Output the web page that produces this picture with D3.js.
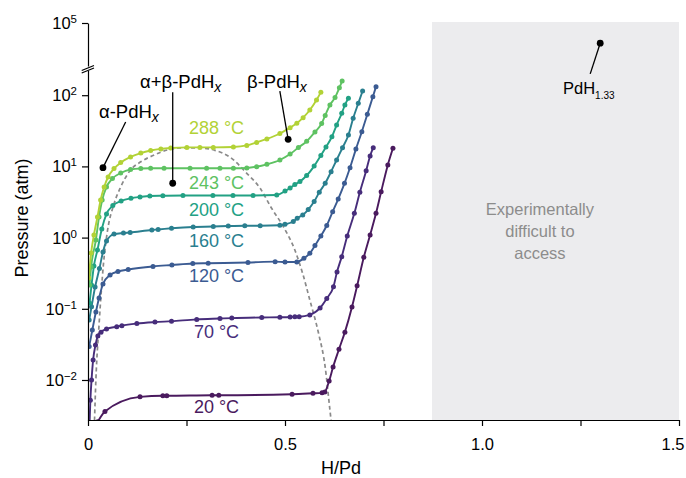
<!DOCTYPE html>
<meta charset="utf-8">
<style>
  body { margin: 0; background: #fff; }
  text { font-family: "Liberation Sans", Arial, sans-serif; fill: #000; }
  .axis path, .axis line { stroke: #000; stroke-width: 1.2px; }
</style>
<svg width="686" height="478"></svg>
<script src="https://cdn.jsdelivr.net/npm/d3@7/dist/d3.min.js"></script>
<script>
// isotherm temperatures (°C)
var temps = [20, 70, 120, 160, 200, 243, 288];

// H/Pd and pressure (atm), one pair of arrays per isotherm
var x20 = [0.025, 0.043, 0.132, 0.190, 0.200, 0.315, 0.332, 0.518, 0.571, 0.594, 0.601, 0.612, 0.622, 0.637, 0.652, 0.670, 0.683, 0.700, 0.716, 0.731, 0.744, 0.761, 0.774];
var p20 = [0.0026, 0.0036, 0.0058, 0.0060, 0.0060, 0.0061, 0.0061, 0.0063, 0.0065, 0.0066, 0.0068, 0.0097, 0.0152, 0.027, 0.047, 0.106, 0.21, 0.53, 1.09, 2.2, 4.4, 10.5, 18];

var x70 = [0.004, 0.006, 0.009, 0.013, 0.019, 0.025, 0.033, 0.047, 0.073, 0.086, 0.124, 0.170, 0.212, 0.276, 0.335, 0.365, 0.441, 0.487, 0.513, 0.525, 0.536, 0.563, 0.589, 0.606, 0.623, 0.632, 0.644, 0.658, 0.676, 0.690, 0.706, 0.716, 0.724];
var p70 = [0.0025, 0.0052, 0.0100, 0.0191, 0.031, 0.0415, 0.047, 0.052, 0.056, 0.058, 0.062, 0.065, 0.067, 0.071, 0.073, 0.074, 0.0755, 0.076, 0.0767, 0.0774, 0.0774, 0.082, 0.103, 0.140, 0.204, 0.33, 0.54, 1.05, 2.19, 4.33, 8.7, 14.0, 18.3];

var x120 = [0.003, 0.011, 0.020, 0.028, 0.038, 0.056, 0.076, 0.102, 0.165, 0.213, 0.266, 0.305, 0.406, 0.475, 0.500, 0.530, 0.548, 0.563, 0.576, 0.591, 0.606, 0.621, 0.635, 0.651, 0.665, 0.680, 0.695, 0.709, 0.723, 0.731];
var p120 = [0.0296, 0.0504, 0.090, 0.142, 0.223, 0.298, 0.334, 0.356, 0.393, 0.412, 0.433, 0.437, 0.447, 0.459, 0.454, 0.454, 0.512, 0.602, 0.774, 1.05, 1.48, 2.31, 3.48, 5.79, 9.59, 17.5, 30.7, 53.9, 95.3, 131.6];

var x160 = [0.003, 0.009, 0.018, 0.029, 0.038, 0.047, 0.066, 0.090, 0.107, 0.162, 0.178, 0.212, 0.267, 0.318, 0.356, 0.398, 0.437, 0.487, 0.500, 0.521, 0.531, 0.545, 0.559, 0.574, 0.587, 0.602, 0.617, 0.631, 0.646, 0.661, 0.673, 0.686, 0.697];
var p160 = [0.0696, 0.107, 0.202, 0.368, 0.628, 0.895, 1.12, 1.16, 1.18, 1.28, 1.30, 1.35, 1.41, 1.43, 1.455, 1.47, 1.47, 1.49, 1.54, 1.68, 1.87, 2.08, 2.48, 3.21, 4.33, 5.79, 8.43, 12.3, 18.3, 27.6, 47.4, 76.9, 114.6];

var x200 = [0.004, 0.009, 0.015, 0.024, 0.035, 0.047, 0.063, 0.084, 0.109, 0.132, 0.157, 0.190, 0.241, 0.317, 0.368, 0.419, 0.479, 0.500, 0.513, 0.525, 0.538, 0.555, 0.574, 0.591, 0.604, 0.619, 0.631, 0.644, 0.652, 0.661];
var p200 = [0.121, 0.216, 0.399, 0.670, 1.32, 2.15, 2.82, 3.27, 3.57, 3.72, 3.84, 3.87, 3.90, 3.90, 3.90, 3.90, 3.96, 4.51, 4.97, 5.57, 6.14, 7.45, 10.1, 14.2, 18.7, 26.1, 38.1, 55.7, 72.8, 90.4];

var x243 = [0.004, 0.008, 0.020, 0.028, 0.036, 0.047, 0.062, 0.083, 0.108, 0.134, 0.159, 0.193, 0.259, 0.301, 0.335, 0.369, 0.403, 0.428, 0.454, 0.487, 0.513, 0.534, 0.555, 0.576, 0.593, 0.602, 0.614, 0.627, 0.638, 0.645];
var p243 = [0.216, 0.386, 0.925, 1.95, 3.37, 5.14, 6.76, 8.08, 9.05, 9.34, 9.40, 9.40, 9.40, 9.40, 9.40, 9.40, 9.49, 9.90, 10.7, 12.3, 14.9, 18.4, 22.5, 30.4, 40.0, 51.9, 72.8, 92.8, 127.4, 158.2];

var x288 = [0.002, 0.008, 0.015, 0.024, 0.032, 0.041, 0.051, 0.066, 0.083, 0.108, 0.134, 0.159, 0.185, 0.210, 0.251, 0.284, 0.318, 0.369, 0.403, 0.428, 0.454, 0.487, 0.513, 0.530, 0.546, 0.563, 0.580, 0.591];
var p288 = [0.271, 0.608, 1.09, 1.95, 3.37, 5.14, 7.10, 9.34, 11.3, 13.6, 15.4, 16.7, 17.6, 18.1, 18.5, 18.5, 18.5, 18.7, 19.7, 21.7, 24.3, 29.0, 35.0, 40.3, 48.3, 61.9, 85.6, 109.8];

// two-phase (alpha + beta) boundary, dashed
var domeX = [0.0165, 0.020, 0.028, 0.034, 0.039, 0.049, 0.066, 0.083, 0.108, 0.134, 0.168, 0.201, 0.244, 0.293, 0.322, 0.360, 0.403, 0.437, 0.466, 0.496, 0.525, 0.546, 0.563, 0.585, 0.602, 0.614, 0.617];
var domeP = [0.0027, 0.0100, 0.059, 0.184, 0.412, 1.20, 2.96, 5.14, 8.9, 11.6, 14.45, 17.0, 18.2, 18.0, 16.8, 13.55, 8.0, 4.92, 2.58, 1.42, 0.670, 0.298, 0.133, 0.0457, 0.0152, 0.0038, 0.0027];

var xTicks = [0, 0.25, 0.5, 0.75, 1.0, 1.25, 1.5];
var xTickLabels = ["0", "", "0.5", "", "1.0", "", "1.5"];
var yTicks = [0.01, 0.1, 1, 10, 100];
var yExponents = ["\u22122", "\u22121", "0", "1", "2"];
var hardStart = 0.873;          // H/Pd where the grey region begins
var pdH133 = [1.30, 5.2e4];     // H/Pd, atm
var annoDots = [[0.038, 9.6], [0.215, 5.8], [0.508, 24.0]];
var annoNames = ["\u03b1-PdH", "\u03b1+\u03b2-PdH", "\u03b2-PdH"];

var colors = ["#4a1a5e", "#472d7b", "#3b5b92", "#2a7f8f", "#22a184", "#5ec262", "#b2d236"];

var svg = d3.select("svg");

var x = d3.scaleLinear().domain([0, 1.5]).range([88, 679]);
var y = d3.scaleLog().domain([Math.pow(10, -2.562), Math.pow(10, 2.354)]).range([420, 70]);
var yTop = d3.scaleLog().domain([Math.pow(10, 4.396), 1e5]).range([66, 23]);

// grey "experimentally difficult" region
svg.append("rect")
    .attr("x", x(hardStart))
    .attr("y", yTop(1e5) - 1)
    .attr("width", x(1.5) - x(hardStart))
    .attr("height", y.range()[0] - yTop(1e5) + 1)
    .attr("fill", "#ececee");

svg.append("text")
    .attr("text-anchor", "middle")
    .style("font-size", "16.5px")
    .style("fill", "#8c8c8c")
    .selectAll("tspan")
    .data(["Experimentally", "difficult to", "access"])
    .enter().append("tspan")
    .attr("x", x(1.147))
    .attr("y", function(d, i) { return 215 + i * 22; })
    .text(function(d) { return d; });

svg.append("clipPath").attr("id", "plot")
  .append("rect")
    .attr("x", 88).attr("y", 70)
    .attr("width", 591).attr("height", 350);

var plot = svg.append("g").attr("clip-path", "url(#plot)");

var line = d3.line()
    .x(function(d) { return x(d[0]); })
    .y(function(d) { return y(d[1]); })
    .curve(d3.curveMonotoneX);

var domePts = domeX.map(function(d, i) { return [d, domeP[i]]; });
plot.append("path")
    .datum(domePts)
    .attr("d", line)
    .attr("fill", "none")
    .attr("stroke", "#8a8a8a")
    .attr("stroke-width", 1.7)
    .attr("stroke-dasharray", "4,3");

var series = [[x20, p20], [x70, p70], [x120, p120], [x160, p160], [x200, p200], [x243, p243], [x288, p288]];

series.forEach(function(s, i) {
    var pts = s[0].map(function(d, j) { return [d, s[1][j]]; });
    plot.append("path")
        .datum(pts)
        .attr("d", line)
        .attr("fill", "none")
        .attr("stroke", colors[i])
        .attr("stroke-width", 1.9);
    plot.selectAll(null)
        .data(pts)
        .enter().append("circle")
        .attr("cx", function(d) { return x(d[0]); })
        .attr("cy", function(d) { return y(d[1]); })
        .attr("r", 2.5)
        .attr("fill", colors[i]);
});

// temperature labels
var labelBase = [413, 338, 282, 247, 216, 188.5, 133.5];
svg.selectAll(".tlabel")
    .data(temps)
    .enter().append("text")
    .attr("class", "tlabel")
    .attr("x", 216.5)
    .attr("y", function(d, i) { return labelBase[i]; })
    .attr("text-anchor", "middle")
    .style("font-size", "18px")
    .style("fill", function(d, i) { return colors[i]; })
    .text(function(d) { return d + " \u00b0C"; });

// phase annotations: leader line from text to dot
var annoText = [[99, 118], [140, 88], [247, 87.5]];
var annoLead = [[22.7, -45.7], [0, -91], [-8.3, -48.3]];

annoDots.forEach(function(d, i) {
    var cx = x(d[0]), cy = y(d[1]);
    svg.append("line")
        .attr("x1", cx).attr("y1", cy)
        .attr("x2", cx + annoLead[i][0]).attr("y2", cy + annoLead[i][1])
        .attr("stroke", "#000").attr("stroke-width", 1.3);
    svg.append("circle").attr("cx", cx).attr("cy", cy).attr("r", 3.4).attr("fill", "#000");
    var t = svg.append("text")
        .attr("x", annoText[i][0]).attr("y", annoText[i][1])
        .style("font-size", "18.5px");
    t.append("tspan").text(annoNames[i]);
    t.append("tspan").attr("dy", 4).style("font-size", "14px").style("font-style", "italic").text("x");
});

// PdH1.33
var hx = x(pdH133[0]), hy = yTop(pdH133[1]);
svg.append("line")
    .attr("x1", hx).attr("y1", hy)
    .attr("x2", hx - 10).attr("y2", hy + 30.7)
    .attr("stroke", "#000").attr("stroke-width", 1.3);
svg.append("circle").attr("cx", hx).attr("cy", hy).attr("r", 3.4).attr("fill", "#000");
var ht = svg.append("text").attr("x", 563).attr("y", 94).style("font-size", "16.5px");
ht.append("tspan").text("PdH");
ht.append("tspan").attr("dy", 5).style("font-size", "10px").text("1.33");

// axes
var xg = svg.append("g")
    .attr("class", "axis")
    .attr("transform", "translate(0," + y.range()[0] + ")")
    .call(d3.axisBottom(x).tickValues(xTicks).tickSize(6).tickSizeOuter(0).tickPadding(12)
        .tickFormat(function(d, i) { return xTickLabels[i]; }));
xg.selectAll("text")
    .style("font-size", "16.5px")
    .attr("fill", "#000");
// last label pulled in so it stays on the page
xg.selectAll("text").filter(function(d) { return d === 1.5; })
    .attr("text-anchor", "end")
    .attr("x", 5);

svg.append("g")
    .attr("class", "axis")
    .attr("transform", "translate(88,0)")
    .call(d3.axisLeft(y).tickValues(yTicks).tickSize(6).tickSizeOuter(0).tickFormat(""));

svg.append("g")
    .attr("class", "axis")
    .attr("transform", "translate(88,0)")
    .call(d3.axisLeft(yTop).tickValues([1e5]).tickSize(6).tickSizeOuter(0).tickFormat(""));

function powLabel(yy, e) {
    var t = svg.append("text")
        .attr("x", 77).attr("y", yy + 6)
        .attr("text-anchor", "end")
        .style("font-size", "16.5px");
    t.append("tspan").text("10");
    t.append("tspan").attr("dy", -6).style("font-size", "11.5px").text(e);
}
yTicks.forEach(function(v, i) { powLabel(y(v), yExponents[i]); });
powLabel(yTop(1e5), "5");

// axis break
svg.append("polygon")
    .attr("points", "80,70.8 96,64.5 96,67.7 80,74")
    .attr("fill", "#fff");
svg.append("line").attr("x1", 81.7).attr("y1", 70.5).attr("x2", 94).attr("y2", 65.5)
    .attr("stroke", "#000").attr("stroke-width", 1.2);
svg.append("line").attr("x1", 81.7).attr("y1", 73).attr("x2", 94).attr("y2", 68)
    .attr("stroke", "#000").attr("stroke-width", 1.2);

// axis titles
svg.append("text")
    .attr("transform", "translate(28,218) rotate(-90)")
    .attr("text-anchor", "middle")
    .style("font-size", "18px")
    .text("Pressure (atm)");

svg.append("text")
    .attr("x", 341).attr("y", 474)
    .attr("text-anchor", "middle")
    .style("font-size", "18px")
    .text("H/Pd");
</script>
